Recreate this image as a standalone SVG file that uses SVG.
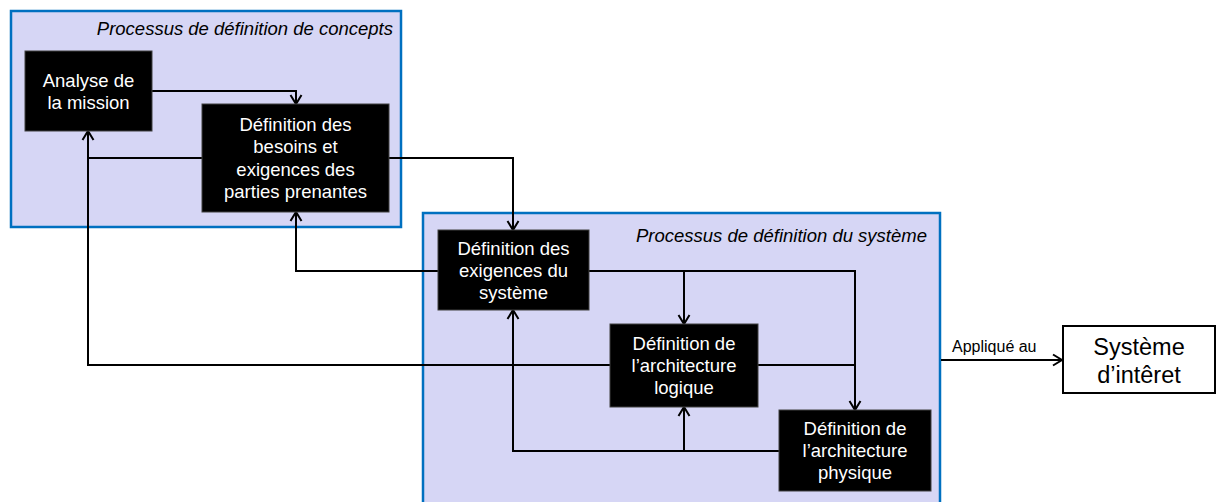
<svg xmlns="http://www.w3.org/2000/svg" width="1217" height="502" viewBox="0 0 1217 502">
<style>
.frame{fill:#D6D6F5;stroke:#0070C0;stroke-width:2.5}
.ftitle{font-family:"Liberation Sans",Arial,sans-serif;font-size:18.5px;font-style:italic;fill:#000;text-anchor:end}
.box{fill:#000;stroke:#404040;stroke-width:1}
.bt{font-family:"Liberation Sans",Arial,sans-serif;font-size:18.5px;fill:#fff;text-anchor:middle}
.conn{fill:none;stroke:#000;stroke-width:2}
.lbl{font-family:"Liberation Sans",Arial,sans-serif;font-size:16px;fill:#000}
.sys{fill:#fff;stroke:#000;stroke-width:2}
.st{font-family:"Liberation Sans",Arial,sans-serif;font-size:23.5px;fill:#000;text-anchor:middle}
</style>
<defs>
<marker id="arr" markerUnits="userSpaceOnUse" markerWidth="14" markerHeight="14" viewBox="0 0 14 14" refX="12" refY="7" orient="auto">
<path d="M3,1.5 L12,7 L3,12.5" fill="none" stroke="#000" stroke-width="2"/>
</marker>
</defs>
<rect width="1217" height="502" fill="#fff"/>
<g id="frame-concepts">
<rect class="frame" x="11" y="11" width="390" height="216"/>
<text class="ftitle" x="393" y="35">Processus de définition de concepts</text>
</g>
<g id="frame-systeme">
<rect class="frame" x="423" y="213" width="517" height="300"/>
<text class="ftitle" x="927" y="242">Processus de définition du système</text>
</g>
<g id="connectors">
<path class="conn" d="M152,91 H296 V104" marker-end="url(#arr)"/>
<path class="conn" d="M202,158 H88"/>
<path class="conn" d="M610,365 H88 V131" marker-end="url(#arr)"/>
<path class="conn" d="M389,158 H513 V230" marker-end="url(#arr)"/>
<path class="conn" d="M438,271 H296 V212" marker-end="url(#arr)"/>
<path class="conn" d="M589,271 H855 V410" marker-end="url(#arr)"/>
<path class="conn" d="M684,271 V324" marker-end="url(#arr)"/>
<path class="conn" d="M758,365 H855"/>
<path class="conn" d="M779,451 H513 V310" marker-end="url(#arr)"/>
<path class="conn" d="M684,451 V407" marker-end="url(#arr)"/>
<path class="conn" d="M941,360 H1062" marker-end="url(#arr)"/>
<text class="lbl" x="952" y="352">Appliqué au</text>
</g>
<g id="analyse-mission">
<rect class="box" x="25" y="51" width="127" height="80"/>
<text class="bt" x="88.5" y="87">Analyse de</text>
<text class="bt" x="88.5" y="109">la mission</text>
</g>
<g id="besoins-parties-prenantes">
<rect class="box" x="202" y="104" width="187" height="108"/>
<text class="bt" x="295.5" y="131">Définition des</text>
<text class="bt" x="295.5" y="153">besoins et</text>
<text class="bt" x="295.5" y="176">exigences des</text>
<text class="bt" x="295.5" y="198">parties prenantes</text>
</g>
<g id="exigences-systeme">
<rect class="box" x="438" y="230" width="151" height="80"/>
<text class="bt" x="513.5" y="255">Définition des</text>
<text class="bt" x="513.5" y="277">exigences du</text>
<text class="bt" x="513.5" y="299">système</text>
</g>
<g id="architecture-logique">
<rect class="box" x="610" y="324" width="148" height="83"/>
<text class="bt" x="684" y="350">Définition de</text>
<text class="bt" x="684" y="372">l’architecture</text>
<text class="bt" x="684" y="394">logique</text>
</g>
<g id="architecture-physique">
<rect class="box" x="779" y="410" width="152" height="81"/>
<text class="bt" x="855" y="435">Définition de</text>
<text class="bt" x="855" y="457">l’architecture</text>
<text class="bt" x="855" y="479">physique</text>
</g>
<g id="systeme-interet">
<rect class="sys" x="1063" y="326" width="152" height="67"/>
<text class="st" x="1139" y="355">Système</text>
<text class="st" x="1139" y="383">d’intêret</text>
</g>
</svg>
